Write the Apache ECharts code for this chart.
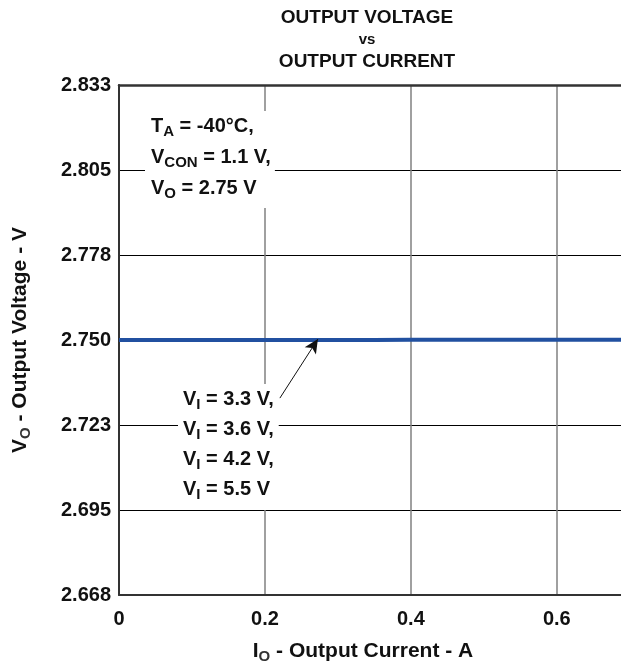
<!DOCTYPE html>
<html>
<head>
<meta charset="utf-8">
<script src="https://cdn.jsdelivr.net/npm/echarts@6/dist/echarts.min.js"></script>
<style>
  html, body { margin: 0; padding: 0; background: #fff; }
  #chart { width: 621px; height: 664px; }
</style>
</head>
<body>
<div id="chart"></div>
<script>
// output current (A) and output voltage (V), all four V_I curves sit on top of each other
var currentA = [0, 0.05, 0.1, 0.15, 0.2, 0.25, 0.3, 0.35, 0.4, 0.45, 0.5, 0.55, 0.6, 0.65, 0.688];
var voltageV = [2.7500, 2.7500, 2.7500, 2.7500, 2.7500, 2.7500, 2.7500, 2.7500, 2.7501, 2.7501, 2.7501, 2.7501, 2.7501, 2.7501, 2.7501];
var yTickLabels = ["2.668", "2.695", "2.723", "2.750", "2.778", "2.805", "2.833"];
var xTickLabels = ["0", "0.2", "0.4", "0.6"];
var arrowFrom = [0.2205, 2.7312];
var arrowTo = [0.2726, 2.7503];

var yMin = 2.6675, yMax = 2.8325, yStep = 0.0275;
var font = "Liberation Sans, Arial, sans-serif";
var subStyle = { fontSize: 15, fontWeight: "bold", fontFamily: font, padding: [11, 0, 0, 0] };

var chart = echarts.init(document.getElementById("chart"));

var option = {
  backgroundColor: "#fff",
  animation: false,
  grid: { left: 119, top: 85, right: 0, bottom: 69, outerBoundsMode: "none" },
  xAxis: [
    {
      type: "value",
      min: 0,
      max: 0.688,
      interval: 0.2,
      axisLine: { show: true, lineStyle: { color: "#333", width: 2 } },
      axisTick: { show: false },
      splitLine: { show: true, showMinLine: false, showMaxLine: false, lineStyle: { color: "#808080", width: 1.5 } },
      axisLabel: {
        margin: 14,
        fontSize: 20,
        fontWeight: "bold",
        fontFamily: font,
        color: "#111",
        showMaxLabel: false,
        formatter: function (v) {
          return xTickLabels[Math.round(v / 0.2)];
        },
      },
      name: "{m|I}{s|O}{m| - Output Current - A}",
      nameLocation: "middle",
      nameGap: 43,
      nameTextStyle: {
        padding: [0, 14, 0, 0],
        rich: {
          m: { fontSize: 21, fontWeight: "bold", fontFamily: font, color: "#111" },
          s: subStyle,
        },
      },
    },
    {
      type: "value",
      position: "top",
      min: 0,
      max: 0.688,
      axisLine: { show: true, lineStyle: { color: "#333", width: 2.5 } },
      axisTick: { show: false },
      axisLabel: { show: false },
      splitLine: { show: false },
    },
  ],
  yAxis: {
    type: "value",
    min: yMin,
    max: yMax,
    interval: yStep,
    axisLine: { show: true, lineStyle: { color: "#333", width: 2 } },
    axisTick: { show: false },
    splitLine: { show: true, lineStyle: { color: "#000", width: 1 } },
    axisLabel: {
      margin: 8,
      fontSize: 20,
      fontWeight: "bold",
      fontFamily: font,
      color: "#111",
      formatter: function (v) {
        return yTickLabels[Math.round((v - yMin) / yStep)];
      },
    },
    name: "{m|V}{s|O}{m| - Output Voltage - V}",
    nameLocation: "middle",
    nameGap: 86,
    nameTextStyle: {
      rich: {
        m: { fontSize: 21, fontWeight: "bold", fontFamily: font, color: "#111" },
        s: subStyle,
      },
    },
  },
  series: [
    {
      type: "line",
      data: currentA.map(function (x, i) {
        return [x, voltageV[i]];
      }),
      showSymbol: false,
      lineStyle: { color: "#2150a0", width: 4 },
      z: 3,
      markLine: {
        silent: true,
        symbol: ["none", "arrow"],
        symbolSize: [10, 14],
        label: { show: false },
        lineStyle: { color: "#111", width: 1, type: "solid" },
        data: [[{ coord: arrowFrom }, { coord: arrowTo }]],
      },
    },
  ],
  graphic: [
    {
      type: "text",
      x: 367,
      y: 7,
      z: 100,
      style: {
        text: "{a|OUTPUT VOLTAGE}\n{b|vs}\n{a|OUTPUT CURRENT}",
        align: "center",
        rich: {
          a: { fontSize: 19, fontWeight: "bold", fontFamily: font, fill: "#111", lineHeight: 22, align: "center" },
          b: { fontSize: 15, fontWeight: "bold", fontFamily: font, fill: "#111", lineHeight: 22, align: "center" },
        },
      },
    },
    {
      type: "text",
      x: 145,
      y: 111,
      z: 100,
      style: {
        text: "{m|T}{s|A}{m| = -40°C,}\n{m|V}{s|CON}{m| = 1.1 V,}\n{m|V}{s|O}{m| = 2.75 V}",
        backgroundColor: "#fff",
        padding: [0, 4, 4, 6],
        rich: {
          m: { fontSize: 20, fontWeight: "bold", fontFamily: font, fill: "#111", lineHeight: 31 },
          s: { fontSize: 15, fontWeight: "bold", fontFamily: font, fill: "#111", padding: [11, 0, 0, 0], lineHeight: 31 },
        },
      },
    },
    {
      type: "text",
      x: 178,
      y: 384,
      z: 100,
      style: {
        text: "{m|V}{s|I}{m| = 3.3 V,}\n{m|V}{s|I}{m| = 3.6 V,}\n{m|V}{s|I}{m| = 4.2 V,}\n{m|V}{s|I}{m| = 5.5 V}",
        backgroundColor: "#fff",
        padding: [0, 5, 6, 5],
        rich: {
          m: { fontSize: 20, fontWeight: "bold", fontFamily: font, fill: "#111", lineHeight: 30 },
          s: { fontSize: 15, fontWeight: "bold", fontFamily: font, fill: "#111", padding: [11, 0, 0, 0], lineHeight: 30 },
        },
      },
    },
  ],
};

chart.setOption(option);
</script>
</body>
</html>
